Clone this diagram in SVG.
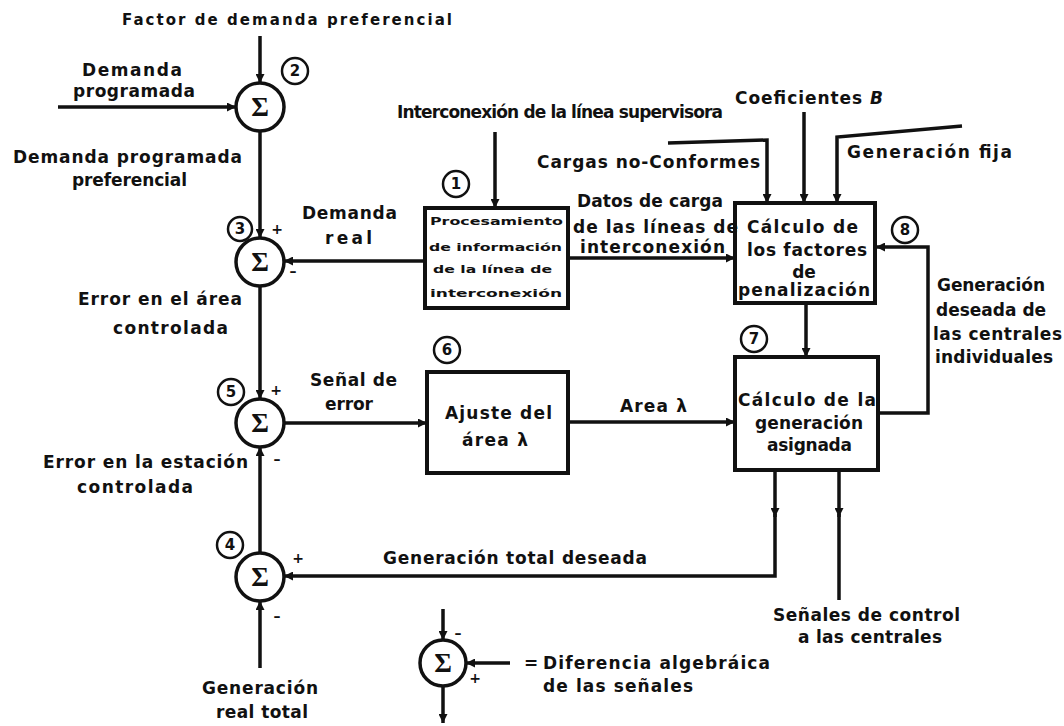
<svg xmlns="http://www.w3.org/2000/svg" width="1064" height="726" viewBox="0 0 1064 726">
<style>
text{font-family:"DejaVu Sans","Liberation Sans",Arial,sans-serif;font-weight:bold;fill:#111;}
.t{font-size:17px;}
.s{font-size:15px;}
.b{font-size:11px;}
.sig{font-family:"Liberation Serif","DejaVu Serif",serif;font-size:27px;text-anchor:middle;}
.num{font-size:15px;text-anchor:middle;}
.pm{font-size:14px;text-anchor:middle;}
.c{text-anchor:middle;}
.ln{fill:none;stroke:#111;stroke-width:3.5;}
.bx{fill:#fff;stroke:#111;stroke-width:4;}
.sc{fill:#fff;stroke:#111;stroke-width:3.5;}
.nc{fill:#fff;stroke:#111;stroke-width:2.5;}
</style>
<defs>
<marker id="ah" viewBox="0 0 10 10" refX="10" refY="5" markerWidth="10" markerHeight="9" markerUnits="userSpaceOnUse" orient="auto"><path d="M0,0 L10,5 L0,10 z" fill="#111"/></marker>
</defs>
<rect x="0" y="0" width="1064" height="726" fill="#fff"/>

<g id="connectors">
<path class="ln" d="M260,36 V83" marker-end="url(#ah)"/>
<path class="ln" d="M58,107 H236" marker-end="url(#ah)"/>
<path class="ln" d="M260,131 V238" marker-end="url(#ah)"/>
<path class="ln" d="M425,261 H284" marker-end="url(#ah)"/>
<path class="ln" d="M495,132 V208" marker-end="url(#ah)"/>
<path class="ln" d="M260,286 V399" marker-end="url(#ah)"/>
<path class="ln" d="M284,423 H427" marker-end="url(#ah)"/>
<path class="ln" d="M260,553 V447" marker-end="url(#ah)"/>
<path class="ln" d="M260,668 V601" marker-end="url(#ah)"/>
<path class="ln" d="M775,470 V517" marker-end="url(#ah)"/>
<path class="ln" d="M775,514 V576 H284" marker-end="url(#ah)"/>
<path class="ln" d="M839,470 V517" marker-end="url(#ah)"/>
<path class="ln" d="M839,514 V600"/>
<path class="ln" d="M568,422 H735" marker-end="url(#ah)"/>
<path class="ln" d="M806,303 V357" marker-end="url(#ah)"/>
<path class="ln" d="M878,413 H928 V247 H876" marker-end="url(#ah)"/>
<path class="ln" d="M568,258 H735" marker-end="url(#ah)"/>
<path class="ln" d="M668,143 L767,140 V203" marker-end="url(#ah)"/>
<path class="ln" d="M804,112 V203" marker-end="url(#ah)"/>
<path class="ln" d="M962,126 L837,137 V203" marker-end="url(#ah)"/>
<path class="ln" d="M443,609 V640" marker-end="url(#ah)"/>
<path class="ln" d="M510,663 H466" marker-end="url(#ah)"/>
<path class="ln" d="M443,686 V723" marker-end="url(#ah)"/>
</g>

<g id="sum2">
<circle class="sc" cx="260" cy="107" r="24"/>
<text class="sig" x="260" y="116">Σ</text>
<circle class="nc" cx="295" cy="71" r="13"/>
<text class="num" x="295" y="76">2</text>
</g>

<g id="sum3">
<circle class="sc" cx="260" cy="262" r="24"/>
<text class="sig" x="260" y="271">Σ</text>
<circle class="nc" cx="240" cy="229" r="12"/>
<text class="num" x="240" y="234">3</text>
<text class="pm" x="277" y="234">+</text>
<text class="pm" x="293" y="276">–</text>
</g>

<g id="sum5">
<circle class="sc" cx="260" cy="423" r="24"/>
<text class="sig" x="260" y="432">Σ</text>
<circle class="nc" cx="231" cy="392" r="13"/>
<text class="num" x="231" y="397">5</text>
<text class="pm" x="276" y="395">+</text>
<text class="pm" x="277" y="464">–</text>
</g>

<g id="sum4">
<circle class="sc" cx="260" cy="577" r="24"/>
<text class="sig" x="260" y="586">Σ</text>
<circle class="nc" cx="230" cy="545" r="13"/>
<text class="num" x="230" y="550">4</text>
<text class="pm" x="298" y="563">+</text>
<text class="pm" x="277" y="621">–</text>
</g>

<g id="box1">
<rect class="bx" x="425" y="208" width="143" height="100"/>
<circle class="nc" cx="456" cy="184" r="13"/>
<text class="num" x="456" y="189">1</text>
<text class="b" x="430" y="225" textLength="133" lengthAdjust="spacingAndGlyphs">Procesamiento</text>
<text class="b" x="429" y="251" textLength="133" lengthAdjust="spacingAndGlyphs">de información</text>
<text class="b" x="433" y="273" textLength="119" lengthAdjust="spacingAndGlyphs">de la línea de</text>
<text class="b" x="430" y="297" textLength="132" lengthAdjust="spacingAndGlyphs">interconexión</text>
</g>

<g id="box8">
<rect class="bx" x="735" y="203" width="140" height="100"/>
<circle class="nc" cx="905" cy="230" r="13"/>
<text class="num" x="905" y="235">8</text>
<text class="t" x="747" y="233" textLength="111" lengthAdjust="spacing">Cálculo de</text>
<text class="t" x="747" y="256" textLength="120" lengthAdjust="spacing">los factores</text>
<text class="t c" x="804" y="278">de</text>
<text class="t" x="738" y="296" textLength="132" lengthAdjust="spacing">penalización</text>
</g>

<g id="box6">
<rect class="bx" x="427" y="372" width="141" height="101"/>
<circle class="nc" cx="447" cy="350" r="13"/>
<text class="num" x="447" y="355">6</text>
<text class="t" x="445" y="419" textLength="107" lengthAdjust="spacing">Ajuste del</text>
<text class="t" x="462" y="446" textLength="66" lengthAdjust="spacing">área λ</text>
</g>

<g id="box7">
<rect class="bx" x="735" y="357" width="143" height="113"/>
<circle class="nc" cx="754" cy="339" r="13"/>
<text class="num" x="754" y="344">7</text>
<text class="t" x="738" y="406" textLength="138" lengthAdjust="spacing">Cálculo de la</text>
<text class="t" x="755" y="429" textLength="108" lengthAdjust="spacing">generación</text>
<text class="t" x="767" y="451" textLength="85" lengthAdjust="spacing">asignada</text>
</g>

<g id="legend">
<circle class="sc" cx="443" cy="663" r="23"/>
<text class="sig" x="443" y="672">Σ</text>
<text class="pm" x="458" y="638">–</text>
<text class="pm" x="475" y="683">+</text>
<text class="t" x="524" y="669">=</text>
<text class="t" x="543" y="669" textLength="227" lengthAdjust="spacing">Diferencia algebráica</text>
<text class="t" x="543" y="692" textLength="150" lengthAdjust="spacing">de las señales</text>
</g>

<g id="labels">
<text class="s" x="122" y="25" textLength="330" lengthAdjust="spacing">Factor de demanda preferencial</text>
<text class="t" x="82" y="76" textLength="100" lengthAdjust="spacing">Demanda</text>
<text class="t" x="73" y="97" textLength="122" lengthAdjust="spacing">programada</text>
<text class="t" x="13" y="163" textLength="229" lengthAdjust="spacing">Demanda programada</text>
<text class="t" x="72" y="186" textLength="115" lengthAdjust="spacing">preferencial</text>
<text class="t" x="302" y="219" textLength="95" lengthAdjust="spacing">Demanda</text>
<text class="t" x="325" y="244" textLength="47" lengthAdjust="spacing">real</text>
<text class="t" x="397" y="118" textLength="326" lengthAdjust="spacing" font-size="15">Interconexión de la línea supervisora</text>
<text class="t" x="537" y="168" textLength="223" lengthAdjust="spacing">Cargas no-Conformes</text>
<text class="t" x="577" y="207" textLength="146" lengthAdjust="spacing">Datos de carga</text>
<text class="t" x="573" y="233" textLength="165" lengthAdjust="spacing">de las líneas de</text>
<text class="t" x="580" y="253" textLength="145" lengthAdjust="spacing">interconexión</text>
<text class="t" x="735" y="104" textLength="148" lengthAdjust="spacing">Coeficientes <tspan font-style="italic">B</tspan></text>
<text class="t" x="847" y="158" textLength="165" lengthAdjust="spacing">Generación fija</text>
<text class="t" x="78" y="305" textLength="164" lengthAdjust="spacing">Error en el área</text>
<text class="t" x="113" y="334" textLength="115" lengthAdjust="spacing">controlada</text>
<text class="t" x="310" y="386" textLength="87" lengthAdjust="spacing">Señal de</text>
<text class="t" x="325" y="410" textLength="48" lengthAdjust="spacing">error</text>
<text class="t" x="43" y="468" textLength="205" lengthAdjust="spacing">Error en la estación</text>
<text class="t" x="77" y="493" textLength="116" lengthAdjust="spacing">controlada</text>
<text class="t" x="620" y="412" textLength="67" lengthAdjust="spacing">Area λ</text>
<text class="t" x="937" y="291" textLength="108" lengthAdjust="spacing">Generación</text>
<text class="t" x="936" y="316" font-size="16">deseada de</text>
<text class="t" x="933" y="340" textLength="129" lengthAdjust="spacing">las centrales</text>
<text class="t" x="935" y="363" textLength="118" lengthAdjust="spacing">individuales</text>
<text class="t" x="383" y="564" textLength="264" lengthAdjust="spacing">Generación total deseada</text>
<text class="t" x="773" y="621" textLength="187" lengthAdjust="spacing">Señales de control</text>
<text class="t" x="798" y="643" textLength="144" lengthAdjust="spacing">a las centrales</text>
<text class="t" x="202" y="694" textLength="116" lengthAdjust="spacing">Generación</text>
<text class="t" x="216" y="718" textLength="92" lengthAdjust="spacing">real total</text>
</g>
</svg>
